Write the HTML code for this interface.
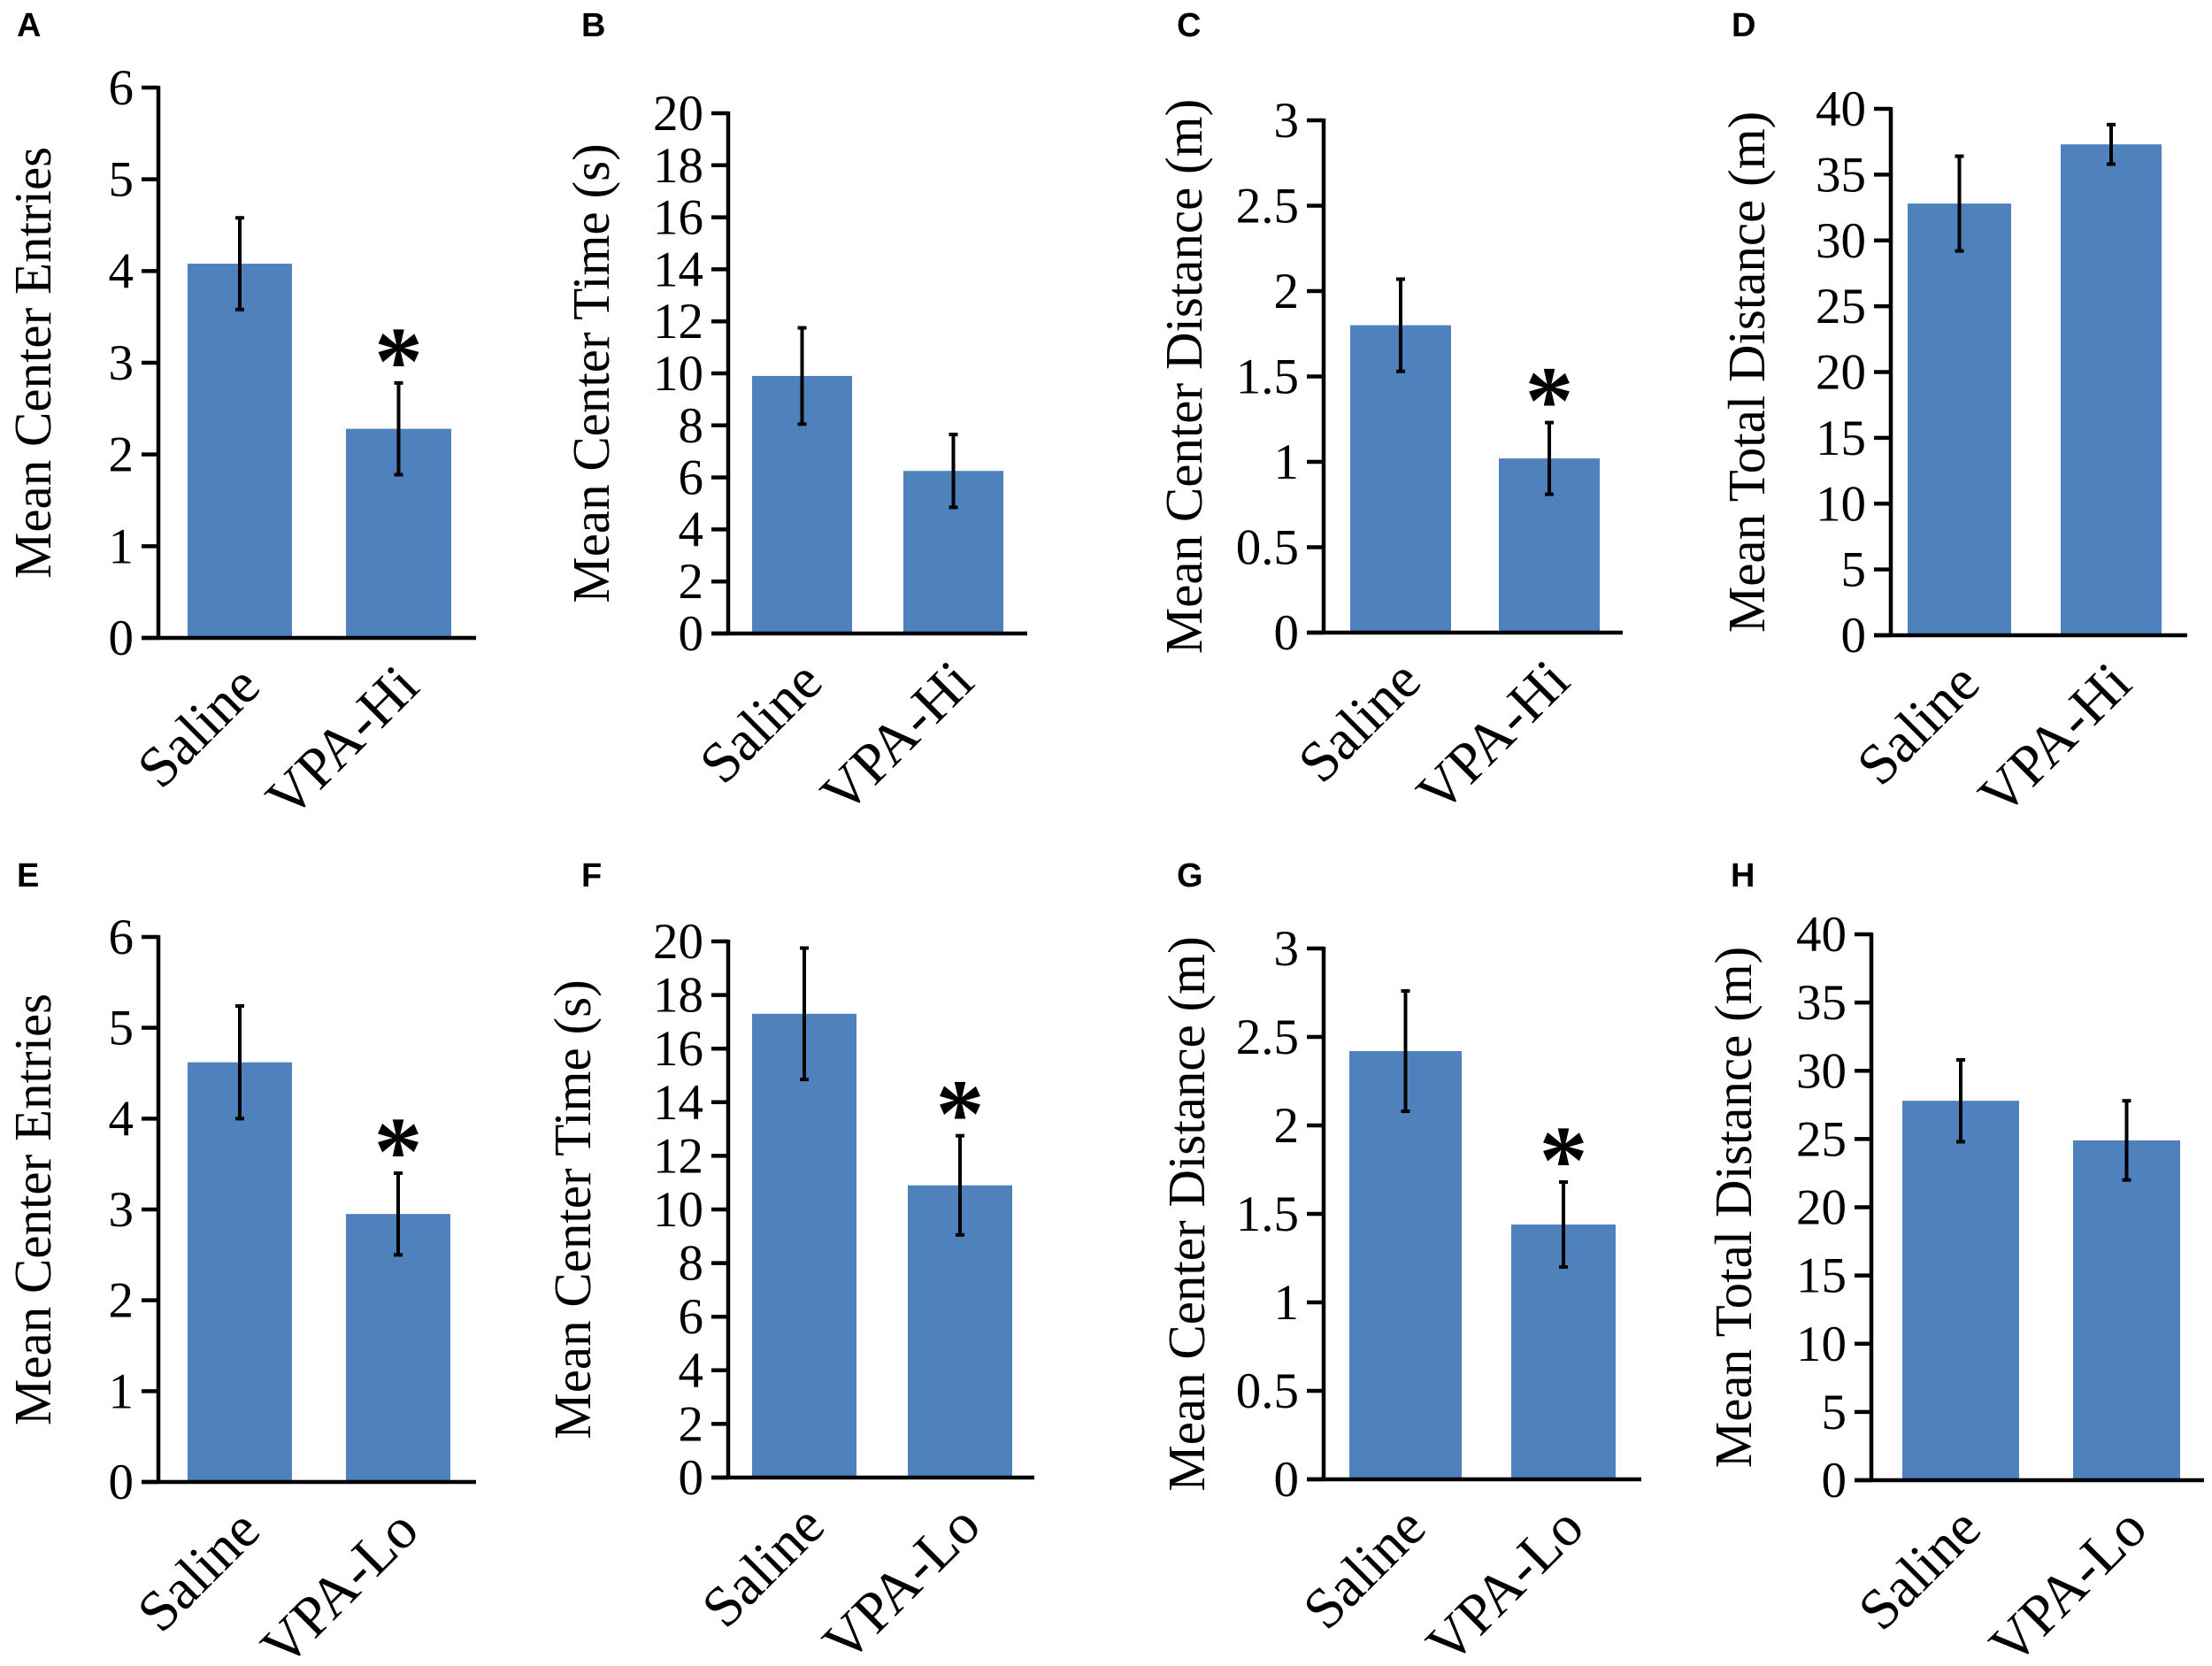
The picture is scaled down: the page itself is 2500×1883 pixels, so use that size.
<!DOCTYPE html>
<html><head><meta charset="utf-8"><style>
html,body{margin:0;padding:0;background:#fff;}
svg{display:block;}
text{font-family:"Liberation Serif",serif;fill:#000;}
.lbl{font-family:"Liberation Sans",sans-serif;font-weight:bold;font-size:38px;}
</style></head><body>
<svg id="fig" width="2500" height="1883" viewBox="0 0 2500 1883" xmlns="http://www.w3.org/2000/svg"></svg>
<script>
// ---- data ----
const panelLetters = ["A","B","C","D","E","F","G","H"];
const yTitles = ["Mean Center Entries","Mean Center Time (s)","Mean Center Distance (m)","Mean Total Distance (m)","Mean Center Entries","Mean Center Time (s)","Mean Center Distance (m)","Mean Total Distance (m)"];
const groupA = ["Saline","Saline","Saline","Saline","Saline","Saline","Saline","Saline"];
const groupB = ["VPA-Hi","VPA-Hi","VPA-Hi","VPA-Hi","VPA-Lo","VPA-Lo","VPA-Lo","VPA-Lo"];
const meansSaline = [4.08, 9.9, 1.8, 32.8, 4.62, 17.3, 2.42, 27.8];
const meansVPA = [2.28, 6.25, 1.02, 37.3, 2.95, 10.9, 1.44, 24.9];
const errSaline = [0.5, 1.85, 0.27, 3.6, 0.62, 2.45, 0.34, 3.0];
const errVPA = [0.5, 1.4, 0.21, 1.5, 0.45, 1.85, 0.24, 2.9];
const sigVPA = [true, false, true, false, true, true, true, false];
const yMax = [6, 20, 3, 40, 6, 20, 3, 40];
const yStep = [1, 2, 0.5, 5, 1, 2, 0.5, 5];

// ---- layout (pixels, not data) ----
const layout = [
 {ax:179,top:99,zero:721,end:538,b1:[212,330],b2:[391,510],tx:36,lx:19,ly:41},
 {ax:823,top:128,zero:716,end:1161,b1:[850,963],b2:[1021,1134],tx:667,lx:657,ly:41},
 {ax:1496,top:136,zero:715,end:1834,b1:[1526,1640],b2:[1694,1808],tx:1337,lx:1330,ly:41},
 {ax:2137,top:123,zero:718,end:2472,b1:[2156,2273],b2:[2329,2443],tx:1973,lx:1957,ly:41},
 {ax:179,top:1059,zero:1675,end:538,b1:[212,330],b2:[391,509],tx:36,lx:19,ly:1002},
 {ax:823,top:1064,zero:1670,end:1169,b1:[850,968],b2:[1026,1144],tx:646,lx:657,ly:1002},
 {ax:1496,top:1072,zero:1672,end:1855,b1:[1525,1652],b2:[1708,1826],tx:1340,lx:1330,ly:1002},
 {ax:2115,top:1056,zero:1673,end:2491,b1:[2150,2282],b2:[2343,2464],tx:1958,lx:1956,ly:1002}
];
const NS="http://www.w3.org/2000/svg";
const svg=document.getElementById('fig');
function mk(tag,attrs,parent,txt){const e=document.createElementNS(NS,tag);for(const k in attrs)e.setAttribute(k,attrs[k]);if(txt!==undefined)e.textContent=txt;parent.appendChild(e);return e;}
function fmt(v){return String(Math.round(v*100)/100);}

for(let p=0;p<8;p++){
  const L=layout[p];
  const g=mk('g',{},svg);
  
  
  const yScale=v=>L.zero-(v/yMax[p])*(L.zero-L.top);
  const letter=mk('text',{x:L.lx,y:L.ly,class:'lbl'},g,panelLetters[p]);
  
  
  const bars=[[L.b1,meansSaline[p],errSaline[p],groupA[p],false],[L.b2,meansVPA[p],errVPA[p],groupB[p],sigVPA[p]]];
  bars.forEach((b,i)=>{
    const [xs,m,e,name,sig]=b;
    const y=yScale(m);
    const r=mk('rect',{x:xs[0],y:y,width:xs[1]-xs[0],height:L.zero-y,fill:'#4f81bd'},g);
    
    
    const cx=(xs[0]+xs[1])/2;
    const yt=yScale(m+e), yb=yScale(m-e);
    const eb=mk('g',{stroke:'#000','stroke-width':4},g);
    
    
    mk('line',{x1:cx,y1:yt,x2:cx,y2:yb},eb);
    mk('line',{x1:cx-5,y1:yt,x2:cx+5,y2:yt},eb);
    mk('line',{x1:cx-5,y1:yb,x2:cx+5,y2:yb},eb);
    if(sig){
      const s=mk('text',{x:cx,y:yt+12,'font-size':110,'text-anchor':'middle','font-weight':'bold'},g,'*');
      
      
    }
    const c=mk('text',{x:cx+26,y:L.zero+58,'font-size':65,'text-anchor':'end',transform:`rotate(-45 ${cx+26} ${L.zero+58})`},g,name);
    
    
  });
  const ax=mk('g',{stroke:'#000','stroke-width':4.5},g);
  
  
  mk('line',{x1:L.ax,y1:L.top-2,x2:L.ax,y2:L.zero+2},ax);
  mk('line',{x1:L.ax-19,y1:L.zero,x2:L.end,y2:L.zero},ax);
  const n=Math.round(yMax[p]/yStep[p]);
  for(let k=0;k<=n;k++){
    const v=k*yStep[p]; const y=yScale(v);
    mk('line',{x1:L.ax-19,y1:y,x2:L.ax,y2:y},ax);
    const t=mk('text',{x:L.ax-28,y:y+19,'font-size':57,'text-anchor':'end'},g,fmt(v));
    
    
  }
  const cy=(L.top+L.zero)/2;
  const tt=mk('text',{x:L.tx+21,y:cy,'font-size':59,'text-anchor':'middle',transform:`rotate(-90 ${L.tx+21} ${cy})`},g,yTitles[p]);
  
  
}
</script>
</body></html>
